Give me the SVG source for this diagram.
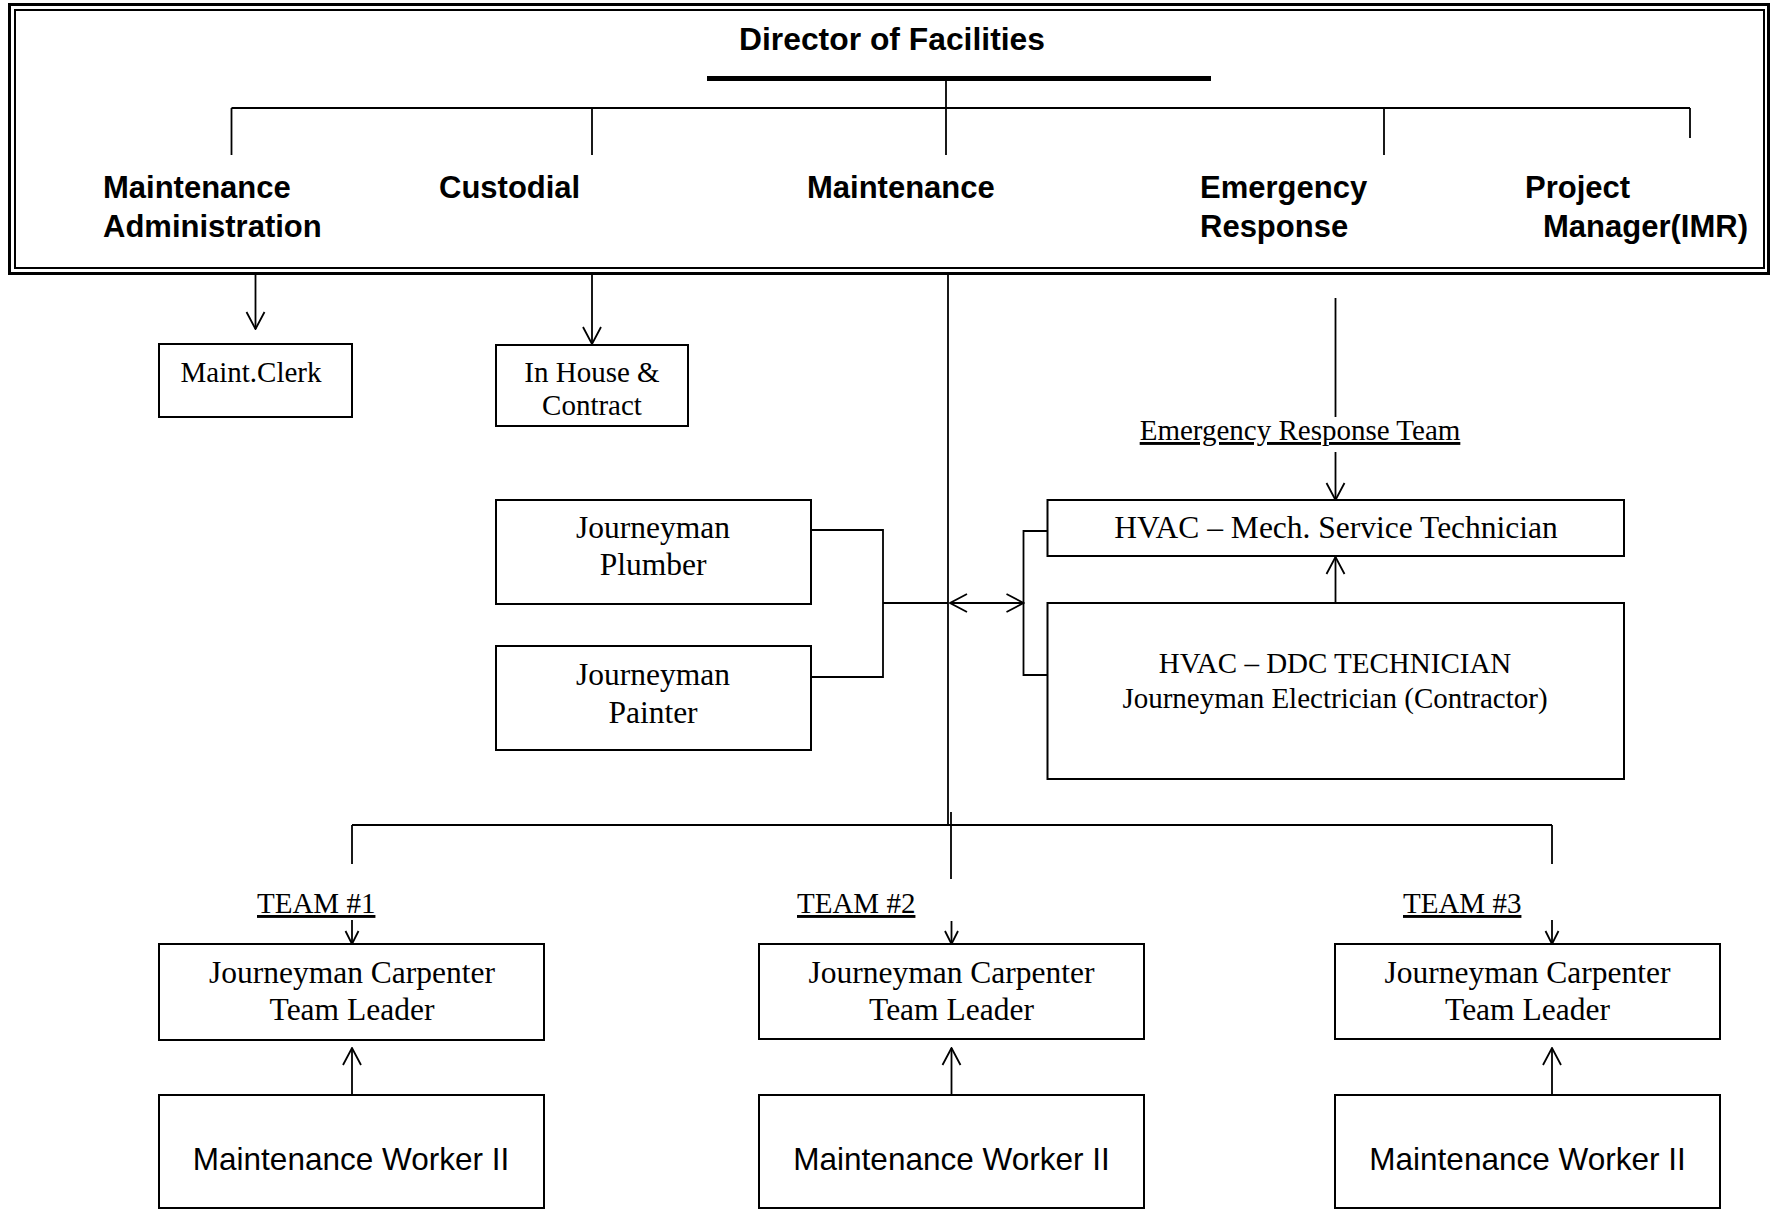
<svg xmlns="http://www.w3.org/2000/svg" width="1771" height="1210" viewBox="0 0 1771 1210">
<style>
.box{fill:#fff;stroke:#000;stroke-width:2}
.ln{fill:none;stroke:#000;stroke-width:1.8}
.hd{font-family:"Liberation Sans",Arial,sans-serif;font-weight:bold;font-size:31px;fill:#000}
.sr{font-family:"Liberation Serif","Times New Roman",serif;font-size:31.5px;fill:#000;text-anchor:middle}
.sm{font-family:"Liberation Serif","Times New Roman",serif;font-size:29px;fill:#000}
.ul{text-decoration:underline;text-decoration-skip-ink:none}
.mw{font-family:"Liberation Sans",Arial,sans-serif;font-size:31.5px;fill:#000;text-anchor:middle}
</style>
<defs>
<marker id="arrL" viewBox="0 0 20 22" refX="19" refY="11" markerWidth="20" markerHeight="22" markerUnits="userSpaceOnUse" orient="auto-start-reverse">
<path d="M2,2 L19,11 L2,20" fill="none" stroke="#000" stroke-width="1.8"/>
</marker>
<marker id="arrS" viewBox="0 0 16 16" refX="15" refY="8" markerWidth="16" markerHeight="16" markerUnits="userSpaceOnUse" orient="auto">
<path d="M2,1.5 L15,8 L2,14.5" fill="none" stroke="#000" stroke-width="1.8"/>
</marker>
</defs>
<rect width="1771" height="1210" fill="#fff"/>

<g id="top-frame">
<rect x="9.5" y="4.5" width="1759" height="269" fill="none" stroke="#000" stroke-width="3"/>
<rect x="15" y="10" width="1749" height="258" fill="none" stroke="#000" stroke-width="2"/>
</g>
<g id="director"><text class="hd" x="739" y="50" textLength="306" lengthAdjust="spacingAndGlyphs">Director of Facilities</text></g>
<g id="maint-admin"><text class="hd" x="103" y="198">Maintenance</text><text class="hd" x="103" y="237">Administration</text></g>
<g id="custodial"><text class="hd" x="439" y="198">Custodial</text></g>
<g id="maintenance"><text class="hd" x="807" y="198">Maintenance</text></g>
<g id="emergency"><text class="hd" x="1200" y="198">Emergency</text><text class="hd" x="1200" y="237">Response</text></g>
<g id="project"><text class="hd" x="1525" y="198">Project</text><text class="hd" x="1543" y="237">Manager(IMR)</text></g>

<g id="maint-clerk"><rect class="box" x="159" y="344" width="193" height="73"/><text class="sm" x="251" y="382" text-anchor="middle">Maint.Clerk</text></g>
<g id="inhouse"><rect class="box" x="496" y="345" width="192" height="81"/><text class="sm" x="592" y="382" text-anchor="middle">In House &amp;</text><text class="sm" x="592" y="415" text-anchor="middle">Contract</text></g>

<g id="plumber"><rect class="box" x="496" y="500" width="315" height="104"/><text class="sr" x="653" y="538">Journeyman</text><text class="sr" x="653" y="575">Plumber</text></g>
<g id="painter"><rect class="box" x="496" y="646" width="315" height="104"/><text class="sr" x="653" y="685">Journeyman</text><text class="sr" x="653" y="723">Painter</text></g>

<g id="hvac-mech"><rect class="box" x="1047.5" y="500" width="576.5" height="56"/><text class="sr" x="1336" y="538">HVAC – Mech. Service Technician</text></g>
<g id="hvac-ddc"><rect class="box" x="1047.5" y="603" width="576.5" height="176"/><text class="sm" x="1335" y="673" text-anchor="middle">HVAC – DDC TECHNICIAN</text><text class="sm" x="1335" y="708" text-anchor="middle">Journeyman Electrician (Contractor)</text></g>
<g id="ert-label"><text class="sm ul" x="1300" y="440" text-anchor="middle">Emergency Response Team</text></g>

<g id="team1-label"><text class="sm ul" x="257" y="913">TEAM #1</text></g>
<g id="team2-label"><text class="sm ul" x="797" y="913">TEAM #2</text></g>
<g id="team3-label"><text class="sm ul" x="1403" y="913">TEAM #3</text></g>

<g id="leader1"><rect class="box" x="159" y="944" width="385" height="96"/><text class="sr" x="352" y="983">Journeyman Carpenter</text><text class="sr" x="352" y="1020">Team Leader</text></g>
<g id="leader2"><rect class="box" x="759" y="944" width="385" height="95"/><text class="sr" x="951.5" y="983">Journeyman Carpenter</text><text class="sr" x="951.5" y="1020">Team Leader</text></g>
<g id="leader3"><rect class="box" x="1335" y="944" width="385" height="95"/><text class="sr" x="1527.5" y="983">Journeyman Carpenter</text><text class="sr" x="1527.5" y="1020">Team Leader</text></g>

<g id="worker1"><rect class="box" x="159" y="1095" width="385" height="113"/><text class="mw" x="351" y="1170">Maintenance Worker II</text></g>
<g id="worker2"><rect class="box" x="759" y="1095" width="385" height="113"/><text class="mw" x="951.5" y="1170">Maintenance Worker II</text></g>
<g id="worker3"><rect class="box" x="1335" y="1095" width="385" height="113"/><text class="mw" x="1527.5" y="1170">Maintenance Worker II</text></g>

<g id="connectors">
<line x1="707" y1="78.5" x2="1211" y2="78.5" stroke="#000" stroke-width="5"/>
<line class="ln" x1="946" y1="81" x2="946" y2="155"/>
<line class="ln" x1="231.5" y1="108" x2="1690" y2="108"/>
<line class="ln" x1="231.5" y1="108" x2="231.5" y2="155"/>
<line class="ln" x1="592" y1="108" x2="592" y2="155"/>
<line class="ln" x1="1384" y1="108" x2="1384" y2="155"/>
<line class="ln" x1="1690" y1="108" x2="1690" y2="138"/>

<line class="ln" x1="255.5" y1="274" x2="255.5" y2="329" marker-end="url(#arrL)"/>
<line class="ln" x1="592" y1="274" x2="592" y2="344" marker-end="url(#arrL)"/>

<line class="ln" x1="948" y1="274" x2="948" y2="826"/>
<line class="ln" x1="951" y1="812" x2="951" y2="879" stroke-width="2.2"/>
<line class="ln" x1="352" y1="825" x2="1552" y2="825"/>
<line class="ln" x1="352" y1="825" x2="352" y2="864"/>
<line class="ln" x1="1552" y1="825" x2="1552" y2="864"/>

<line class="ln" x1="352" y1="920" x2="352" y2="944" marker-end="url(#arrS)"/>
<line class="ln" x1="951.5" y1="921" x2="951.5" y2="944" marker-end="url(#arrS)"/>
<line class="ln" x1="1552" y1="920" x2="1552" y2="944" marker-end="url(#arrS)"/>

<line class="ln" x1="352" y1="1095" x2="352" y2="1048" marker-end="url(#arrL)"/>
<line class="ln" x1="951.5" y1="1095" x2="951.5" y2="1048" marker-end="url(#arrL)"/>
<line class="ln" x1="1552" y1="1095" x2="1552" y2="1048" marker-end="url(#arrL)"/>

<polyline class="ln" points="811,530 883,530 883,677 811,677"/>
<line class="ln" x1="883" y1="603" x2="948" y2="603" stroke-width="2.6"/>
<line class="ln" x1="950" y1="603" x2="1023.5" y2="603" marker-start="url(#arrL)" marker-end="url(#arrL)"/>
<polyline class="ln" points="1047.5,531 1023.5,531 1023.5,675 1047.5,675"/>

<line class="ln" x1="1335.5" y1="298" x2="1335.5" y2="417"/>
<line class="ln" x1="1335.5" y1="452" x2="1335.5" y2="500" marker-end="url(#arrL)"/>
<line class="ln" x1="1335.5" y1="603" x2="1335.5" y2="557" marker-end="url(#arrL)"/>
</g>
</svg>
